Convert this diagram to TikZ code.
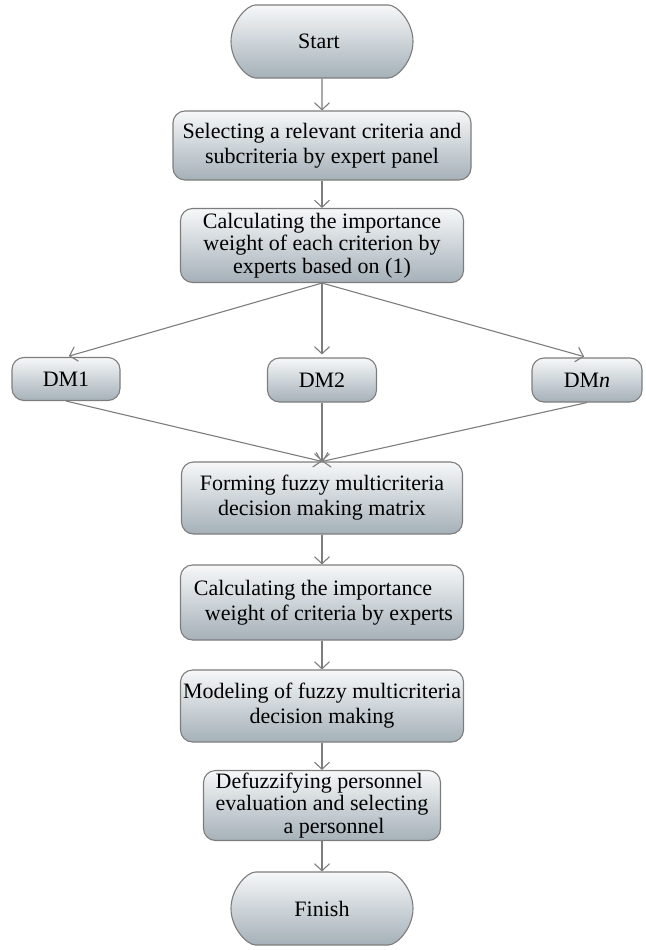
\documentclass[tikz,border=0pt]{standalone}
\usepackage{fontspec}
\setmainfont{Liberation Serif}
\usetikzlibrary{arrows.meta,shapes.misc}

\definecolor{filltop}{RGB}{246,248,249}
\definecolor{fillbot}{RGB}{165,176,184}
\definecolor{edgegray}{RGB}{125,125,125}
\tikzset{
  stagebox/.style={draw=edgegray,line width=1.1pt,rounded corners=12pt,top color=filltop,bottom color=fillbot,
    inner sep=0pt,align=center,font=\fontsize{22}{25}\selectfont},
  tightbox/.style={stagebox,font=\fontsize{22}{22.5}\selectfont},
  termbox/.style={stagebox,rounded rectangle,minimum width=182pt,minimum height=73pt},
  flow/.style={draw=edgegray,line width=1.1pt,-{Straight Barb[length=7pt,width=15pt,line width=1.1pt]}}
}

\begin{document}
\begin{tikzpicture}[x=1pt,y=-1pt]
  \useasboundingbox (0,0) rectangle (645,950);
  \node[termbox] (start) at (322,41.5) {Start\hspace*{6pt}};
  \node[stagebox,minimum width=298pt,minimum height=69pt] (sel) at (322,145.5)
     {Selecting a relevant criteria and\\subcriteria by expert panel};
  \node[tightbox,minimum width=283pt,minimum height=74pt] (calc1) at (322,245.5)
     {Calculating the importance\\weight of each criterion by\\experts based on (1)};
  % decision makers
  \node[stagebox,minimum width=108pt,minimum height=43pt] (dm1) at (66,379) {DM1};
  \node[stagebox,minimum width=109pt,minimum height=44pt] (dm2) at (322,380) {DM2};
  \node[stagebox,minimum width=110pt,minimum height=44pt] (dmn) at (587,380) {DM\textit{n}};
  \node[stagebox,minimum width=281pt,minimum height=72pt] (form) at (322,498)
     {Forming fuzzy multicriteria\\decision making matrix};
  \node[stagebox,minimum width=283pt,minimum height=75pt] (calc2) at (322,602.5)
     {Calculating the importance\hspace*{18pt}\\\hspace*{14pt}weight of criteria by experts};
  \node[stagebox,minimum width=283pt,minimum height=72pt] (model) at (322,706)
     {Modeling of fuzzy multicriteria\\decision making};
  \node[tightbox,minimum width=237pt,minimum height=70pt,align=left] (defuzz) at (322,805.5)
     {Defuzzifying personnel\\evaluation and selecting\\\hspace*{68pt}a personnel};
  \node[termbox] (finish) at (322,908.5) {Finish};

  \draw[flow] (start) -- (sel);
  \draw[flow] (sel) -- (calc1);
  \foreach \d in {dm1,dm2,dmn}{
    \draw[flow,shorten >=3pt] (calc1.south) -- (\d.north);
    \draw[flow] (\d.south) -- (form.north);
  }
  \draw[flow] (form) -- (calc2);
  \draw[flow] (calc2) -- (model);
  \draw[flow] (model) -- (defuzz);
  \draw[flow] (defuzz) -- (finish);
\end{tikzpicture}
\end{document}
